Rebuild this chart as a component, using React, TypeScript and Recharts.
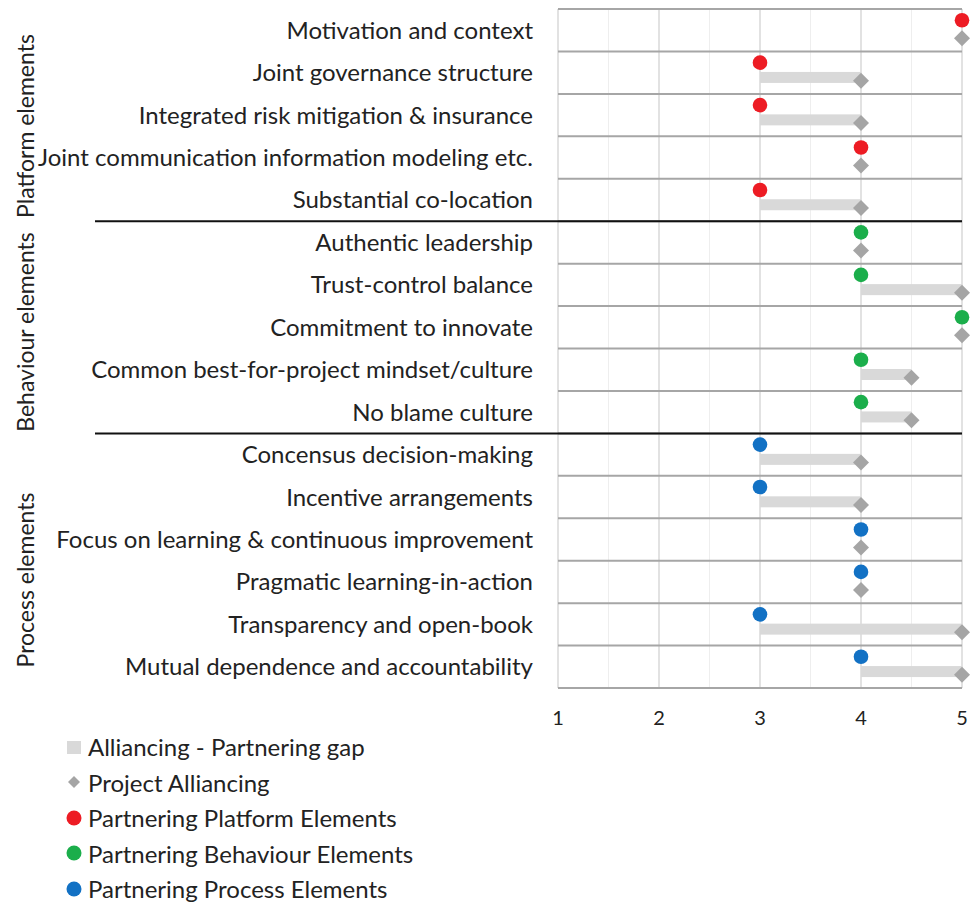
import { Bar, CartesianGrid, ComposedChart, ReferenceLine, Scatter, XAxis, YAxis } from "recharts";

const categories = [
  "Motivation and context",
  "Joint governance structure",
  "Integrated risk mitigation & insurance",
  "Joint communication information modeling etc.",
  "Substantial co-location",
  "Authentic leadership",
  "Trust-control balance",
  "Commitment to innovate",
  "Common best-for-project mindset/culture",
  "No blame culture",
  "Concensus decision-making",
  "Incentive arrangements",
  "Focus on learning & continuous improvement",
  "Pragmatic learning-in-action",
  "Transparency and open-book",
  "Mutual dependence and accountability",
];
const groups = [
  "platform", "platform", "platform", "platform", "platform",
  "behaviour", "behaviour", "behaviour", "behaviour", "behaviour",
  "process", "process", "process", "process", "process", "process",
];
const partnering = [5, 3, 3, 4, 3, 4, 4, 5, 4, 4, 3, 3, 4, 4, 3, 4];
const alliancing = [5, 4, 4, 4, 4, 4, 5, 5, 4.5, 4.5, 4, 4, 4, 4, 5, 5];
const xTicks = [1, 1.5, 2, 2.5, 3, 3.5, 4, 4.5, 5];
const groupLabels = ["Platform elements", "Behaviour elements", "Process elements"];

const FONT = "Lato, 'Open Sans', sans-serif";
const TEXT = "#222222";
const GAP = "#d9d9d9";
const DIAMOND = "#a5a5a5";
const SEP = "#a6a6a6";
const groupColor: Record<string, string> = {
  platform: "#ed1c24",
  behaviour: "#1bae4b",
  process: "#1271c4",
};

const legendItems = [
  { label: "Alliancing - Partnering gap", kind: "square", color: GAP },
  { label: "Project Alliancing", kind: "diamond", color: DIAMOND },
  { label: "Partnering Platform Elements", kind: "dot", color: groupColor.platform },
  { label: "Partnering Behaviour Elements", kind: "dot", color: groupColor.behaviour },
  { label: "Partnering Process Elements", kind: "dot", color: groupColor.process },
];

function LegendMark({ kind, color }: { kind: string; color: string }) {
  return (
    <svg width={16} height={16} style={{ display: "block" }}>
      {kind === "square" && <rect x={1} y={2} width={14} height={13} fill={color} />}
      {kind === "diamond" && <polygon points="8,2 14,8 8,14 2,8" fill={color} />}
      {kind === "dot" && <circle cx={8} cy={8} r={7.5} fill={color} />}
    </svg>
  );
}

export default function App() {
  const rows = categories.map((name, i) => ({
    name,
    group: groups[i],
    partnering: partnering[i],
    alliancing: alliancing[i],
    gap: [partnering[i], alliancing[i]],
  }));
  // first category of each new group gets a black divider on its top edge
  const groupStarts = categories.filter((_, i) => i > 0 && groups[i] !== groups[i - 1]);

  return (
    <div style={{ position: "relative", width: 963, height: 896, fontFamily: FONT, color: TEXT }}>
      <style>{"html { overflow: hidden; } body { width: 963px; } #root { width: 963px; height: 896px; }"}</style>
      <ComposedChart
        width={963}
        height={896}
        data={rows}
        layout="vertical"
        margin={{ top: 1, right: 9, bottom: 176, left: 0 }}
        style={{ overflow: "visible" }}
      >
        <CartesianGrid
          horizontal={false}
          vertical={(p: any) => (
            <line
              key={p.key}
              x1={p.x1}
              y1={p.y1}
              x2={p.x2}
              y2={p.y2}
              stroke={p.index % 2 === 0 ? "#d9d9d9" : "#eeeeee"}
              strokeWidth={p.index % 2 === 0 ? 1.5 : 1}
            />
          )}
        />
        <XAxis
          type="number"
          dataKey="partnering"
          domain={[1, 5]}
          ticks={xTicks}
          interval={0}
          tickFormatter={(v) => (Number.isInteger(v) ? String(v) : "")}
          axisLine={false}
          tickLine={false}
          tickSize={0}
          tickMargin={23}
          height={40}
          tick={{ fontSize: 20, fill: TEXT, fontFamily: FONT }}
        />
        <XAxis xAxisId="a" type="number" dataKey="alliancing" domain={[1, 5]} hide />
        <YAxis
          type="category"
          dataKey="name"
          width={550}
          interval={0}
          axisLine={false}
          tickLine={false}
          tickSize={0}
          tickMargin={25}
          tick={{ fontSize: 24, fill: TEXT, fontFamily: FONT }}
        />
        {categories.map((c) => (
          <ReferenceLine key={`s-${c}`} y={c} position="start" stroke={SEP} strokeWidth={2} />
        ))}
        <ReferenceLine y={categories[categories.length - 1]} position="end" stroke={SEP} strokeWidth={2} />
        {groupStarts.map((c) => (
          <ReferenceLine key={`g-${c}`} y={c} position="start" stroke="#111111" strokeWidth={2} />
        ))}
        {groupStarts.map((c) => (
          <ReferenceLine
            key={`e-${c}`}
            y={c}
            position="start"
            shape={(p: any) => (
              <line x1={p.x1 - 463} y1={p.y1} x2={p.x1} y2={p.y1} stroke="#111111" strokeWidth={2} />
            )}
          />
        ))}
        <Bar
          dataKey="gap"
          barSize={11}
          fill={GAP}
          isAnimationActive={false}
          shape={(p: any) => (
            <rect x={p.x} y={p.y + 4.5} width={Math.max(p.width, 0)} height={p.height} fill={GAP} />
          )}
        />
        <Scatter
          xAxisId="a"
          dataKey="alliancing"
          isAnimationActive={false}
          shape={(p: any) => {
            const cy = p.cy + 8;
            return (
              <polygon
                points={`${p.cx},${cy - 8} ${p.cx + 8},${cy} ${p.cx},${cy + 8} ${p.cx - 8},${cy}`}
                fill={DIAMOND}
              />
            );
          }}
        />
        <Scatter
          dataKey="partnering"
          isAnimationActive={false}
          shape={(p: any) => (
            <circle cx={p.cx} cy={p.cy - 10} r={7.3} fill={groupColor[p.payload.group]} />
          )}
        />
      </ComposedChart>

      {/* group labels on the left */}
      {groupLabels.map((g, i) => (
        <div
          key={g}
          style={{
            position: "absolute",
            left: 17,
            top: [118, 324, 572][i],
            transform: "translate(-50%, -50%) rotate(-90deg)",
            whiteSpace: "nowrap",
            fontSize: 23,
          }}
        >
          {g}
        </div>
      ))}

      <div style={{ position: "absolute", left: 58, top: 721 }}>
        {legendItems.map((it) => (
          <div key={it.label} style={{ display: "flex", alignItems: "center", height: 35.5, fontSize: 24 }}>
            <LegendMark kind={it.kind} color={it.color} />
            <span style={{ marginLeft: 6, whiteSpace: "nowrap" }}>{it.label}</span>
          </div>
        ))}
      </div>
    </div>
  );
}
